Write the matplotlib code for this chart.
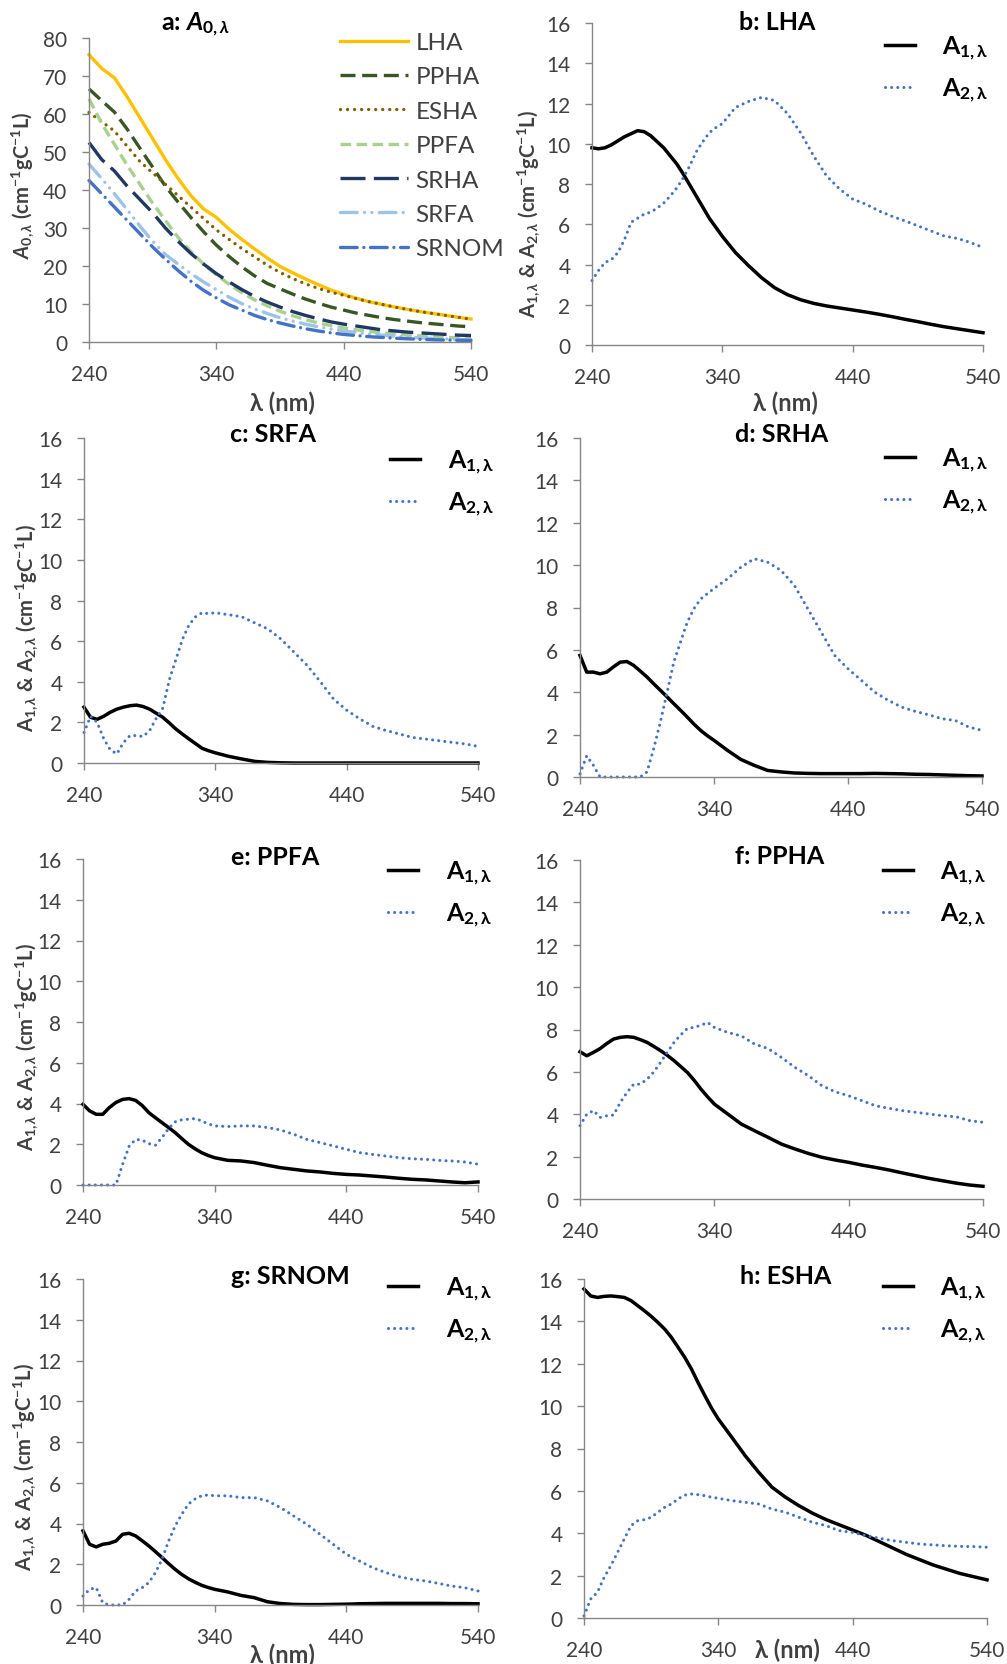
"""Absorbance spectra A0 and its two components A1 / A2 for seven NOM isolates."""

import matplotlib
matplotlib.use("Agg")
import matplotlib.pyplot as plt

W, H = 1007, 1665

AX_GREY = "#868686"
TXT_GREY = "#404040"
BLUE = "#4472C4"

plt.rcParams["font.family"] = ["Lato", "DejaVu Sans"]
plt.rcParams["mathtext.fontset"] = "custom"
plt.rcParams["mathtext.rm"] = "Lato:bold"
plt.rcParams["mathtext.it"] = "Lato:italic:bold"
plt.rcParams["mathtext.bf"] = "Lato:bold"

# --- panel a: A0 spectra, 10 nm steps ---
WL_A = list(range(240, 541, 10))
LHA_A0 = [75.6, 72, 69.5, 64.5, 59, 53.5, 48, 43, 38.5, 35, 32.8, 29.7, 27, 24.5, 22.1, 19.9,
          18.2, 16.6, 15.1, 13.7, 12.5, 11.5, 10.6, 9.9, 9.2, 8.6, 8.0, 7.5, 7.0, 6.5, 6.05]
PPHA_A0 = [66.6, 63.5, 60.5, 56, 51, 46, 41, 36.8, 32.8, 29, 25.5, 22.5, 19.8, 17.4, 15.4, 14,
           12.6, 11.3, 10.2, 9.2, 8.4, 7.6, 7.0, 6.4, 5.9, 5.5, 5.1, 4.8, 4.5, 4.2, 4.0]
ESHA_A0 = [60.4, 58, 55.5, 51.5, 47.5, 44.5, 41.5, 38.5, 35.5, 32.5, 29.5, 27, 24.6, 22.4, 20.2, 18.3,
           16.7, 15.3, 14.1, 13.1, 12.3, 11.4, 10.6, 9.9, 9.2, 8.6, 8.0, 7.5, 7.0, 6.5, 6.0]
PPFA_A0 = [64, 57.5, 52, 46.5, 41.5, 36.5, 32, 27.5, 23.8, 20.5, 17.7, 15.2, 13.0, 11.1, 9.5, 8.1,
           6.9, 5.9, 5.0, 4.3, 3.7, 3.2, 2.8, 2.4, 2.1, 1.8, 1.6, 1.4, 1.2, 1.1, 1.0]
SRHA_A0 = [52.5, 48, 45, 41, 37.5, 34, 30, 26.5, 23.3, 20.5, 18, 15.8, 13.8, 12.0, 10.5, 9.2,
           8.0, 7.0, 6.1, 5.3, 4.7, 4.2, 3.7, 3.2, 2.9, 2.6, 2.4, 2.2, 2.0, 1.8, 1.7]
SRFA_A0 = [46.8, 43, 39, 34.8, 30.5, 26.5, 23, 20.5, 18, 15.8, 13.8, 11.8, 10.1, 8.7, 7.5, 6.4,
           5.5, 4.7, 4.0, 3.4, 2.9, 2.5, 2.1, 1.8, 1.5, 1.3, 1.1, 0.95, 0.8, 0.7, 0.6]
SRNOM_A0 = [42.5, 39, 35.5, 32, 28.5, 25, 21.8, 18.8, 16, 13.6, 11.6, 9.8, 8.4, 7.0, 5.9, 5.0,
            4.2, 3.5, 2.9, 2.4, 2.0, 1.7, 1.4, 1.2, 1.0, 0.85, 0.7, 0.6, 0.5, 0.45, 0.4]

# --- panels b-h: A1 and A2, 5 nm steps up to 335 nm then 10 nm ---
WL = list(range(240, 340, 5)) + list(range(340, 541, 10))

LHA_A1 = [9.8, 9.75, 9.8, 9.95, 10.15, 10.35, 10.5, 10.65, 10.6, 10.4, 10.1, 9.8, 9.4, 9.0, 8.5, 7.95, 7.4, 6.85, 6.3, 5.85,
          5.4, 4.6, 3.95, 3.35, 2.85, 2.5, 2.25, 2.07, 1.94, 1.84, 1.74, 1.64, 1.53, 1.41, 1.28, 1.16, 1.03, 0.91, 0.81, 0.71, 0.61]
LHA_A2 = [3.2, 3.7, 4.1, 4.25, 4.6, 5.25, 6.1, 6.3, 6.5, 6.6, 6.8, 7.05, 7.4, 7.8, 8.3, 8.9, 9.6, 10.1, 10.55, 10.8,
          11.0, 11.8, 12.1, 12.3, 12.15, 11.5, 10.55, 9.4, 8.4, 7.75, 7.25, 7.0, 6.67, 6.4, 6.17, 5.92, 5.67, 5.42, 5.3, 5.1, 4.85]

SRFA_A1 = [2.75, 2.25, 2.15, 2.3, 2.5, 2.65, 2.75, 2.82, 2.85, 2.78, 2.65, 2.45, 2.25, 1.97, 1.67, 1.42, 1.18, 0.95, 0.72, 0.6,
           0.5, 0.33, 0.2, 0.08, 0.03, 0.01, 0, 0, 0, 0, 0, 0, 0, 0, 0, 0, 0, 0, 0, 0, 0]
SRFA_A2 = [1.5, 2.3, 2.0, 1.2, 0.65, 0.45, 1.0, 1.35, 1.35, 1.3, 1.6, 2.2, 2.7, 4.1, 5.1, 6.1, 6.8, 7.2, 7.4, 7.35,
           7.4, 7.3, 7.2, 6.9, 6.6, 6.1, 5.45, 4.8, 4.0, 3.15, 2.6, 2.17, 1.8, 1.6, 1.43, 1.26, 1.18, 1.1, 1.02, 0.94, 0.82]

SRHA_A1 = [5.74, 4.95, 4.95, 4.87, 4.95, 5.2, 5.42, 5.45, 5.27, 5.0, 4.72, 4.4, 4.09, 3.78, 3.46, 3.15, 2.83, 2.5, 2.2, 1.95,
           1.73, 1.26, 0.83, 0.55, 0.31, 0.24, 0.19, 0.17, 0.16, 0.16, 0.16, 0.16, 0.17, 0.16, 0.15, 0.13, 0.12, 0.1, 0.08, 0.06, 0.05]
SRHA_A2 = [0.15, 1.0, 0.55, 0, 0, 0, 0, 0, 0, 0, 0.24, 1.34, 2.6, 4.0, 5.42, 6.37, 7.3, 7.94, 8.4, 8.65,
           8.9, 9.35, 9.9, 10.3, 10.14, 9.75, 9.04, 7.94, 6.84, 5.74, 5.11, 4.56, 4.0, 3.62, 3.3, 3.1, 2.94, 2.75, 2.67, 2.36, 2.2]

PPFA_A1 = [3.96, 3.64, 3.47, 3.47, 3.8, 4.05, 4.2, 4.24, 4.15, 3.9, 3.55, 3.3, 3.06, 2.82, 2.57, 2.28, 2.0, 1.78, 1.59, 1.45,
           1.34, 1.21, 1.18, 1.1, 0.97, 0.85, 0.77, 0.69, 0.64, 0.57, 0.52, 0.49, 0.44, 0.39, 0.33, 0.28, 0.25, 0.2, 0.15, 0.11, 0.15]
PPFA_A2 = [0, 0, 0, 0, 0, 0, 1.0, 1.9, 2.24, 2.2, 2.03, 1.95, 2.33, 2.77, 3.1, 3.2, 3.23, 3.26, 3.15, 3.0,
           2.9, 2.87, 2.9, 2.9, 2.82, 2.7, 2.49, 2.24, 2.08, 1.92, 1.75, 1.59, 1.5, 1.42, 1.34, 1.29, 1.26, 1.21, 1.18, 1.13, 1.02]

PPHA_A1 = [6.95, 6.76, 6.92, 7.1, 7.34, 7.55, 7.63, 7.66, 7.63, 7.52, 7.39, 7.2, 7.0, 6.78, 6.53, 6.25, 5.97, 5.6, 5.19, 4.82,
           4.48, 4.01, 3.54, 3.22, 2.91, 2.59, 2.36, 2.15, 1.97, 1.84, 1.73, 1.6, 1.49, 1.37, 1.23, 1.1, 0.97, 0.86, 0.75, 0.66, 0.6]
PPHA_A2 = [3.46, 4.0, 4.17, 3.85, 3.93, 3.96, 4.56, 5.03, 5.42, 5.42, 5.66, 6.0, 6.45, 6.92, 7.39, 7.75, 8.05, 8.1, 8.2, 8.33,
           8.1, 7.86, 7.7, 7.31, 7.1, 6.68, 6.21, 5.82, 5.35, 5.06, 4.87, 4.64, 4.4, 4.28, 4.17, 4.09, 4.01, 3.93, 3.88, 3.7, 3.62]

SRNOM_A1 = [3.64, 2.98, 2.85, 2.98, 3.03, 3.14, 3.47, 3.52, 3.39, 3.15, 2.9, 2.62, 2.33, 2.03, 1.75, 1.5, 1.29, 1.12, 0.97, 0.86,
            0.77, 0.64, 0.47, 0.36, 0.16, 0.07, 0.03, 0.02, 0.02, 0.03, 0.04, 0.06, 0.07, 0.08, 0.08, 0.08, 0.08, 0.08, 0.07, 0.07, 0.06]
SRNOM_A2 = [0.44, 0.77, 0.85, 0.11, 0, 0, 0, 0.28, 0.69, 0.85, 1.1, 1.59, 2.24, 3.14, 3.88, 4.45, 4.95, 5.2, 5.36, 5.4,
            5.36, 5.36, 5.27, 5.27, 5.11, 4.78, 4.37, 3.96, 3.47, 2.98, 2.49, 2.16, 1.83, 1.59, 1.39, 1.26, 1.18, 1.06, 0.93, 0.85, 0.69]

ESHA_A1 = [15.53, 15.2, 15.13, 15.18, 15.2, 15.17, 15.13, 14.98, 14.74, 14.5, 14.24, 13.95, 13.64, 13.25, 12.78, 12.3, 11.75, 11.1, 10.49, 9.9,
           9.39, 8.53, 7.66, 6.88, 6.17, 5.7, 5.3, 4.95, 4.65, 4.4, 4.15, 3.9, 3.6, 3.3, 3.0, 2.75, 2.5, 2.3, 2.1, 1.95, 1.8]
ESHA_A2 = [0.1, 0.9, 1.21, 1.92, 2.47, 3.1, 3.73, 4.36, 4.59, 4.64, 4.75, 4.99, 5.22, 5.38, 5.62, 5.8, 5.85, 5.82, 5.77, 5.7,
           5.65, 5.54, 5.46, 5.38, 5.14, 4.99, 4.75, 4.52, 4.36, 4.12, 4.04, 3.89, 3.76, 3.65, 3.57, 3.49, 3.45, 3.41, 3.38, 3.37, 3.34]

# --- layout, in reference pixels: axes box (left, top, right, bottom) ---
AX_BOX = {
    "a": (89, 39, 471, 343), "b": (592, 24, 983, 346),
    "c": (84, 439, 478, 764), "d": (580, 439, 982, 778),
    "e": (83, 860, 478, 1186), "f": (580, 861, 983, 1200),
    "g": (83, 1280, 478, 1606), "h": (584, 1280, 987, 1619),
}
TITLE_XY = {"a": (195, 25), "b": (777, 23), "c": (273, 435), "d": (782, 435),
            "e": (275, 858), "f": (780, 857), "g": (290, 1277), "h": (786, 1277)}
YLABEL_XY = {"a": (23, 185), "b": (529, 214), "c": (27, 628), "e": (27, 1047), "g": (25, 1467)}
XLABEL_XY = {"a": (282, 403), "b": (785, 403), "g": (282, 1655), "h": (787, 1650)}
LEGEND_XY = {"b": (885, 52), "c": (390, 466), "d": (885, 464), "e": (388, 877),
             "f": (883, 877), "g": (388, 1293), "h": (883, 1293)}

A_LINES = [
    ("LHA", LHA_A0, "#FFC000", "-"),
    ("PPHA", PPHA_A0, "#385723", (0, (4.5, 2))),
    ("ESHA", ESHA_A0, "#7F6000", (0, (0.01, 2.1))),
    ("PPFA", PPFA_A0, "#A9D18E", (0, (3.2, 1.6))),
    ("SRHA", SRHA_A0, "#203864", (0, (7.5, 2.5))),
    ("SRFA", SRFA_A0, "#9DC3E6", (0, (5, 2.2, 0.01, 2.2, 0.01, 2.2))),
    ("SRNOM", SRNOM_A0, BLUE, (0, (5, 2, 0.01, 2))),
]
COMP_PANELS = [
    ("b", "b: LHA", LHA_A1, LHA_A2),
    ("c", "c: SRFA", SRFA_A1, SRFA_A2),
    ("d", "d: SRHA", SRHA_A1, SRHA_A2),
    ("e", "e: PPFA", PPFA_A1, PPFA_A2),
    ("f", "f: PPHA", PPHA_A1, PPHA_A2),
    ("g", "g: SRNOM", SRNOM_A1, SRNOM_A2),
    ("h", "h: ESHA", ESHA_A1, ESHA_A2),
]

YLAB_A0 = r"$A_{0,λ}$ (cm$^{-1}$gC$^{-1}$L)"
YLAB_A12 = r"A$_{1,λ}$ & A$_{2,λ}$ (cm$^{-1}$gC$^{-1}$L)"


def fx(x):
    return x / W


def fy(y):
    return 1 - y / H


def make_axes(fig, key, ymax, ystep):
    l, t, r, b = AX_BOX[key]
    ax = fig.add_axes([fx(l), fy(b), (r - l) / W, (b - t) / H])
    ax.set_xlim(240, 540)
    ax.set_ylim(0, ymax)
    ax.set_xticks([240, 340, 440, 540])
    ax.set_yticks(range(0, ymax + 1, ystep))
    for s in ("top", "right"):
        ax.spines[s].set_visible(False)
    for s in ("left", "bottom"):
        ax.spines[s].set_color(AX_GREY)
        ax.spines[s].set_linewidth(1.0)
    ax.tick_params(colors=AX_GREY, labelcolor=TXT_GREY, labelsize=15,
                   length=5, width=1.0, direction="out")
    ax.tick_params(axis="x", pad=11)
    ax.tick_params(axis="y", pad=10.5)
    return ax


fig = plt.figure(figsize=(W / 100, H / 100), dpi=100)

# panel a
ax = make_axes(fig, "a", 80, 10)
for name, vals, color, ls in A_LINES:
    cap = "round" if name in ("ESHA", "SRFA", "SRNOM") else "butt"
    ax.plot(WL_A, vals, color=color, linestyle=ls, linewidth=2.4,
            dash_capstyle=cap, label=name, clip_on=False)
leg = ax.legend(loc="upper left", bbox_to_anchor=(fx(340), fy(42 - 9)),
                bbox_transform=fig.transFigure, frameon=False, fontsize=17.5,
                handlelength=2.8, handletextpad=0.3, labelspacing=0.55,
                borderpad=0, borderaxespad=0)
for t in leg.get_texts():
    t.set_color(TXT_GREY)
tx, ty = TITLE_XY["a"]
fig.text(fx(tx), fy(ty), r"a: $A_{0,λ}$", fontsize=18, fontweight="bold",
         color="black", ha="center", va="center")

# panels b-h
for key, title, a1, a2 in COMP_PANELS:
    ax = make_axes(fig, key, 16, 2)
    ax.plot(WL, a1, color="black", linewidth=2.5, label=r"A$_\mathrm{1,λ}$", clip_on=False)
    ax.plot(WL, a2, color=BLUE, linewidth=2.2, linestyle=(0, (0.01, 2.0)),
            dash_capstyle="round", label=r"A$_\mathrm{2,λ}$", clip_on=False)
    lx, ly = LEGEND_XY[key]
    ax.legend(loc="upper left", bbox_to_anchor=(fx(lx), fy(ly - 17)),
              bbox_transform=fig.transFigure, frameon=False,
              prop={"size": 18, "weight": "bold"},
              handlelength=1.2, handletextpad=1.1, labelspacing=0.55,
              borderpad=0, borderaxespad=0)
    tx, ty = TITLE_XY[key]
    fig.text(fx(tx), fy(ty), title, fontsize=18, fontweight="bold",
             color="black", ha="center", va="center")

for key, (x, y) in YLABEL_XY.items():
    label = YLAB_A0 if key == "a" else YLAB_A12
    fig.text(fx(x), fy(y), label, rotation=90, fontsize=14.5, fontweight="bold",
             color=TXT_GREY, ha="center", va="center")

for key, (x, y) in XLABEL_XY.items():
    fig.text(fx(x), fy(y), "λ (nm)", fontsize=17, fontweight="bold",
             color=TXT_GREY, ha="center", va="center")

fig.savefig("out.png", dpi=100)
